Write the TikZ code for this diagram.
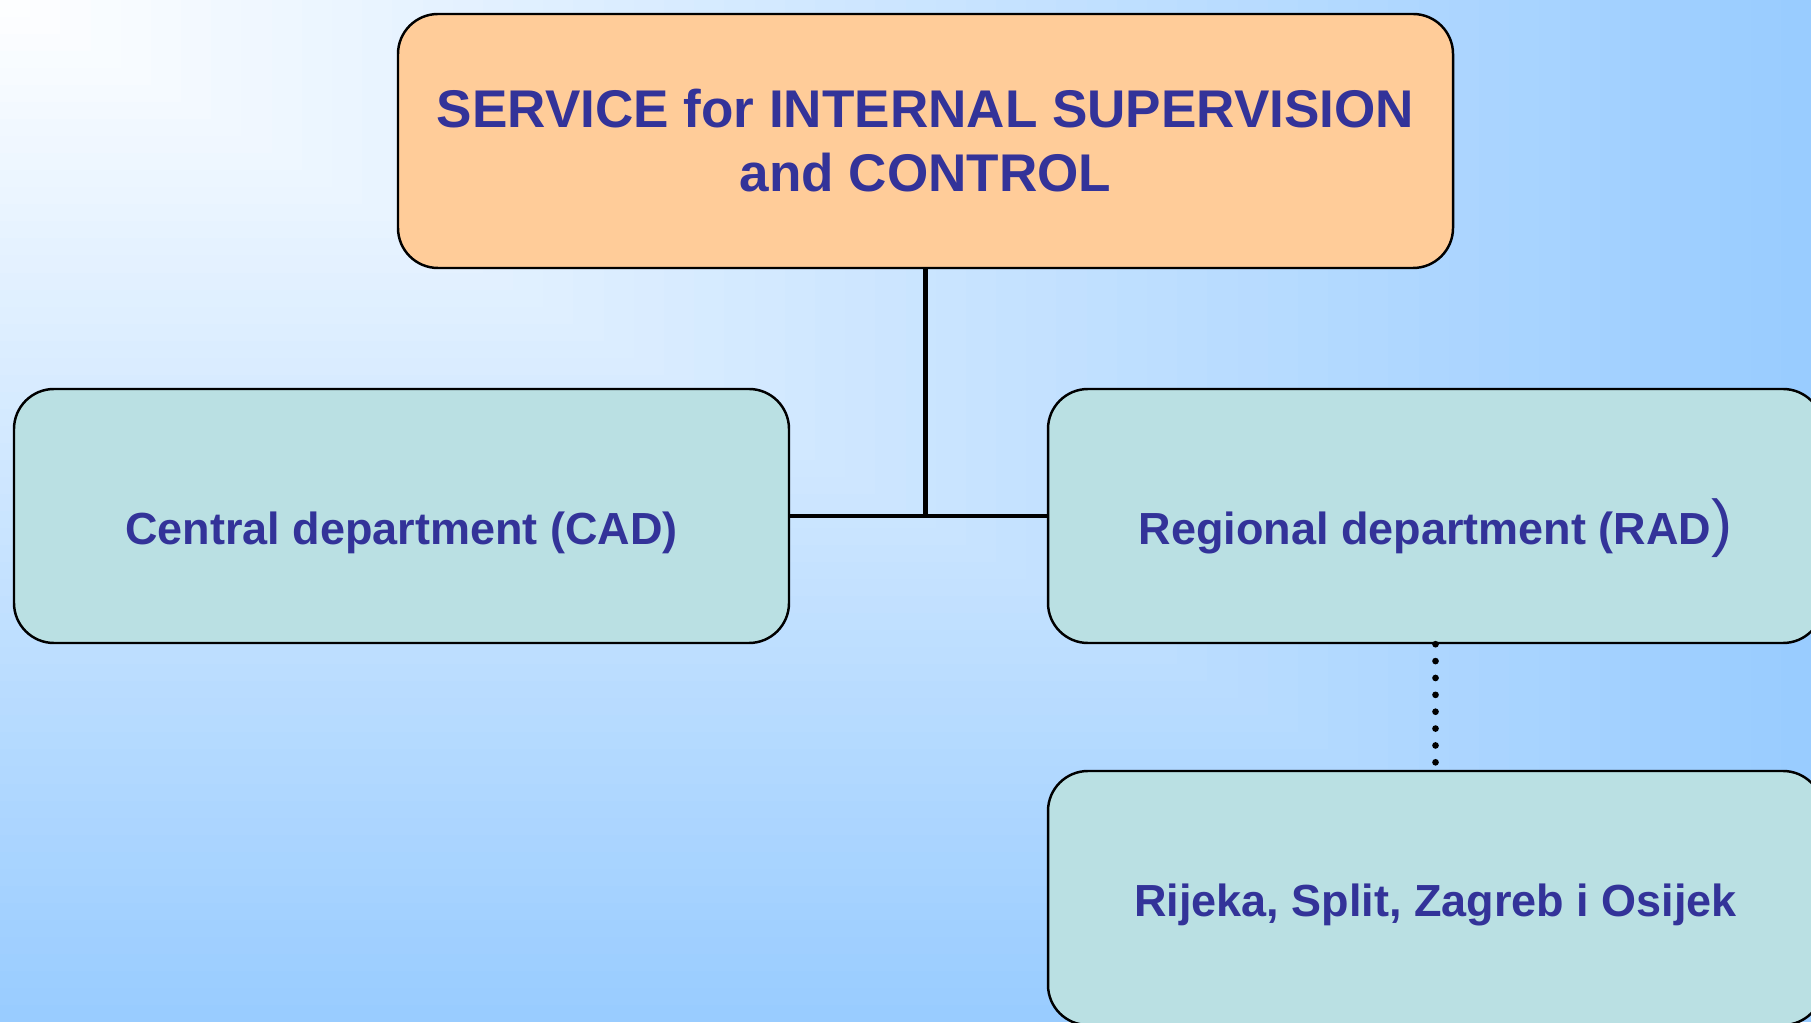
\documentclass[tikz,border=0pt]{standalone}
\usepackage{fontspec}
\setmainfont{Liberation Sans}
\usepackage{tikz}
\usetikzlibrary{%
  calc,%
  positioning% wg. " of "
}
\definecolor{bgblue}{RGB}{153,204,255}
\definecolor{headfill}{RGB}{255,204,153}
\definecolor{deptfill}{RGB}{186,224,227}
\definecolor{txtblue}{RGB}{51,51,153}

\begin{document}
\begin{tikzpicture}
  [
  line width=1.3pt, draw=black,
  orgbox/.style={rectangle, rounded corners=4mm, draw=black, line width=0.7pt,
    minimum width=7.75cm, minimum height=2.54cm, align=center,
    fill=deptfill, text=txtblue, font=\fontsize{12.8}{15.4}\selectfont\bfseries},
  deptbox/.style={orgbox, text height=0.66cm, text depth=0.09cm},
  headbox/.style={orgbox, fill=headfill, minimum width=10.55cm,
    font=\fontsize{15.1}{18.2}\selectfont\bfseries}
  ]

  \useasboundingbox (0,0) rectangle (18.11,10.22);
  \clip (0,0) rectangle (18.11,10.22);

  % background, from the upper left corner
  \foreach \i [evaluate=\i as \pct using 100*\i/60] in {60,59,...,1} {
    \fill[bgblue!\pct!white] (0,10.22) rectangle (18.11*\i/60,10.22-10.22*\i/60);
  }

  \node[headbox] (sisc) at (9.255,8.81) {SERVICE for INTERNAL SUPERVISION\\and CONTROL};

  \node[deptbox] (cad) at (4.015,5.06) {Central department (CAD)};
  \node[deptbox] (rad) at (14.355,5.06)
    {Regional department (RAD{\fontsize{18}{18}\selectfont\mdseries)}};
  \node[deptbox, text height=0.46cm] (towns) at (14.355,1.24) {Rijeka, Split, Zagreb i Osijek};

  \draw (sisc.south) -- (sisc.south |- cad.east);
  \draw (cad.east) -- (rad.west);
  \draw[line width=1.9pt, line cap=round, dash pattern=on 0pt off 4.8pt] (rad.south) -- (towns.north);
\end{tikzpicture}
\end{document}
